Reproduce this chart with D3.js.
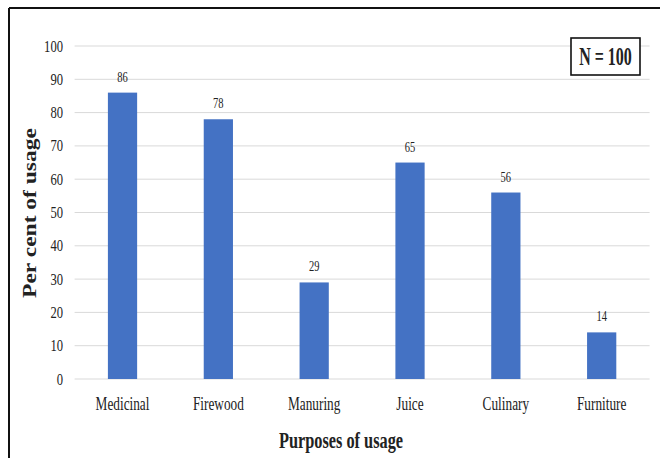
<!DOCTYPE html>
<html>
<head>
<meta charset="utf-8">
<script src="https://cdn.jsdelivr.net/npm/d3@7"></script>
<style>
  html, body { margin: 0; padding: 0; background: #fff; }
  svg { display: block; }
  text { font-family: "Liberation Serif", "Times New Roman", serif; fill: #222; }
</style>
</head>
<body>
<svg id="chart" width="660" height="459"></svg>
<script>
// Purposes of usage and share of respondents (%)
const categories = ["Medicinal", "Firewood", "Manuring", "Juice", "Culinary", "Furniture"];
const values = [86, 78, 29, 65, 56, 14];
const yTicks = [0, 10, 20, 30, 40, 50, 60, 70, 80, 90, 100];
const sampleLabel = "N = 100";
const xTitle = "Purposes of usage";
const yTitle = "Per cent of usage";

const svg = d3.select("#chart");
const W = 660, H = 459;
const plot = { left: 74.6, right: 649.6, top: 46, bottom: 379 };
const SX = 0.7; // narrow serif lettering

svg.append("rect").attr("width", W).attr("height", H).attr("fill", "#fff");

// frame (top and left edges visible)
svg.append("line").attr("x1", 9).attr("x2", W).attr("y1", 8).attr("y2", 8)
  .attr("stroke", "#111").attr("stroke-width", 2);
svg.append("line").attr("x1", 9).attr("x2", 9).attr("y1", 8).attr("y2", 458)
  .attr("stroke", "#111").attr("stroke-width", 2);

const x = d3.scaleBand().domain(categories)
  .range([plot.left, plot.right]).paddingInner(0.695).paddingOuter(0.3475);
const y = d3.scaleLinear().domain([0, 100]).range([plot.bottom, plot.top]);

// gridlines
svg.append("g").selectAll("line").data(yTicks).join("line")
  .attr("x1", plot.left).attr("x2", plot.right)
  .attr("y1", d => y(d)).attr("y2", d => y(d))
  .attr("stroke", "#d9d9d9").attr("stroke-width", 1);

// y tick labels
svg.append("g").selectAll("text").data(yTicks).join("text")
  .attr("transform", d => `translate(63,${y(d) + 5.5}) scale(0.72,1)`)
  .attr("text-anchor", "end").attr("font-size", 17.5)
  .text(d => d);

// bars
svg.append("g").selectAll("rect").data(values).join("rect")
  .attr("x", (d, i) => x(categories[i]))
  .attr("width", x.bandwidth())
  .attr("y", d => y(d))
  .attr("height", d => y(0) - y(d))
  .attr("fill", "#4472c4");

// value labels
svg.append("g").selectAll("text").data(values).join("text")
  .attr("transform", (d, i) => `translate(${x(categories[i]) + x.bandwidth() / 2},${y(d) - 11}) scale(0.7,1)`)
  .attr("text-anchor", "middle").attr("font-size", 15)
  .text(d => d);

// category labels
svg.append("g").selectAll("text").data(categories).join("text")
  .attr("transform", d => `translate(${x(d) + x.bandwidth() / 2},410) scale(${SX},1)`)
  .attr("text-anchor", "middle").attr("font-size", 19)
  .text(d => d);

// axis titles
svg.append("text")
  .attr("transform", `translate(341,448) scale(0.68,1)`)
  .attr("text-anchor", "middle").attr("font-size", 24).attr("font-weight", "bold")
  .attr("fill", "#111")
  .text(xTitle);

svg.append("text")
  .attr("transform", `translate(36,213) scale(0.78,1) rotate(-90)`)
  .attr("text-anchor", "middle").attr("font-size", 23.5).attr("font-weight", "bold")
  .attr("fill", "#111")
  .text(yTitle);

// sample size box
const nb = svg.append("g");
nb.append("rect").attr("x", 571).attr("y", 38).attr("width", 69).attr("height", 37)
  .attr("fill", "#fff").attr("stroke", "#111").attr("stroke-width", 1.6);
nb.append("text")
  .attr("transform", `translate(605.5,65) scale(0.64,1)`)
  .attr("text-anchor", "middle").attr("font-size", 25).attr("font-weight", "bold")
  .attr("fill", "#111")
  .text(sampleLabel);
</script>
</body>
</html>
